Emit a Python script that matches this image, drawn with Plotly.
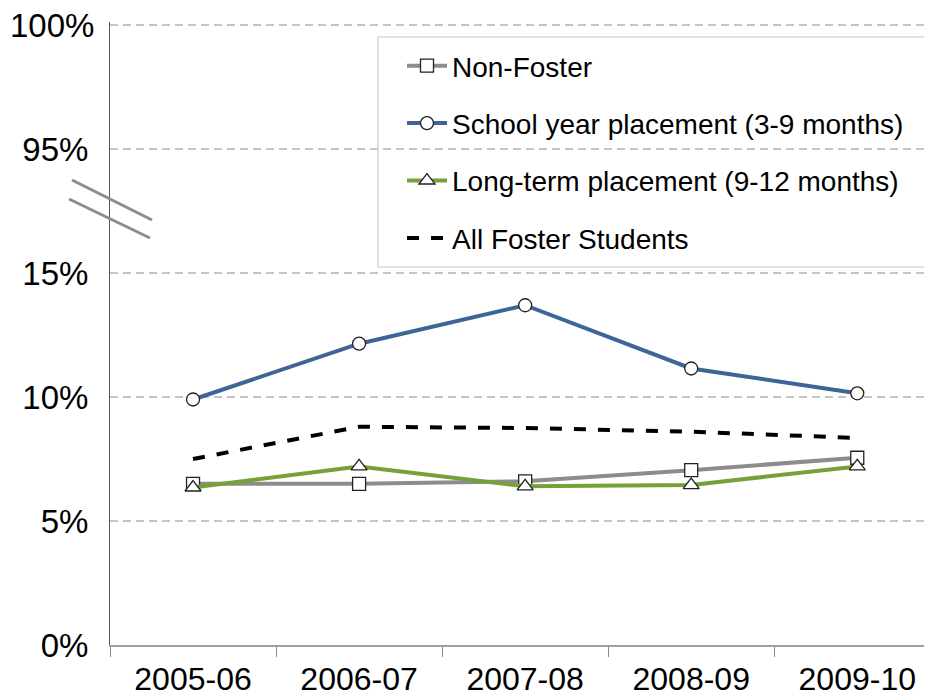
import plotly.graph_objects as go

years = ["2005-06", "2006-07", "2007-08", "2008-09", "2009-10"]
non_foster = [6.5, 6.5, 6.6, 7.05, 7.55]
school_year = [9.9, 12.15, 13.7, 11.15, 10.15]
long_term = [6.35, 7.2, 6.4, 6.45, 7.2]
all_foster = [7.5, 8.8, 8.75, 8.6, 8.35]

# broken axis: 0-15% plotted directly, 95-100% mapped onto 20-25
tick_vals = [0, 5, 10, 15, 20, 25]
tick_text = ["0%", "5%", "10%", "15%", "95%", "100%"]

FONT = "Liberation Sans, Arial, sans-serif"

fig = go.Figure()
fig.add_trace(go.Scatter(
    x=years, y=non_foster, name="Non-Foster", mode="lines+markers",
    line=dict(color="#8c8c8c", width=4),
    marker=dict(symbol="square", size=13, color="white", line=dict(color="#222", width=1.3)),
    legendgroup="a"))
fig.add_trace(go.Scatter(
    x=years, y=school_year, name="School year placement (3-9 months)", mode="lines+markers",
    line=dict(color="#3d6597", width=4),
    marker=dict(symbol="circle", size=13, color="white", line=dict(color="#222", width=1.3)),
    legendgroup="b"))
fig.add_trace(go.Scatter(
    x=years, y=long_term, name="Long-term placement (9-12 months)", mode="lines+markers",
    line=dict(color="#76a03a", width=4),
    marker=dict(symbol="triangle-up", size=14, color="white", line=dict(color="#222", width=1.3)),
    legendgroup="c"))
fig.add_trace(go.Scatter(
    x=years, y=all_foster, name="All Foster Students", mode="lines",
    line=dict(color="black", width=4, dash="dash"),
    legendgroup="d"))

# page body has an 8px margin, so the figure is drawn offset by 8px
OFF = 8
W, H = 932, 700
# desired on-screen plot area: x 110..932, y 22..645
L, T = 110 - OFF, 22 - OFF
R = W - (932 - OFF)
B = H - (645 - OFF)
pw, ph = W - L - R, H - T - B
YMAX = 25 * ph / 620.0  # keep 24.8 px per percent, a few px of headroom

def px(x):
    return (x - OFF - L) / pw

def py(y):
    return (H - B - (y - OFF)) / ph

shapes = [
    # legend frame
    dict(type="rect", xref="paper", yref="paper", x0=px(378), x1=px(928), y0=py(267), y1=py(37),
         line=dict(color="#c8c8c8", width=1.2), fillcolor="white", layer="below"),
    # axis break marks
    dict(type="line", xref="paper", yref="paper", x0=px(72), y0=py(180), x1=px(152), y1=py(220),
         line=dict(color="#8c8c8c", width=3)),
    dict(type="line", xref="paper", yref="paper", x0=px(69), y0=py(199), x1=px(150), y1=py(238),
         line=dict(color="#8c8c8c", width=3)),
]

# top tick label is dropped by plotly near the figure edge, so place it as an annotation
shown_text = tick_text[:-1] + [""]
annotations = [
    dict(text=tick_text[-1], xref="paper", yref="y", x=0, y=tick_vals[-1],
         xanchor="right", yanchor="middle", xshift=-14, showarrow=False,
         font=dict(size=33, family=FONT, color="black")),
]

fig.update_layout(
    width=W, height=H,
    margin=dict(l=L, r=R, t=T, b=B, autoexpand=False),
    paper_bgcolor="white", plot_bgcolor="white",
    font=dict(family=FONT, color="black"),
    showlegend=True,
    legend=dict(x=px(402), y=py(41), xanchor="left", yanchor="top",
                bgcolor="rgba(0,0,0,0)", borderwidth=0,
                font=dict(size=28, family=FONT), tracegroupgap=18,
                traceorder="grouped", itemwidth=40),
    shapes=shapes,
    annotations=annotations,
)
fig.update_xaxes(
    type="category", range=[-0.5, 4.45], automargin=False,
    showgrid=False, showline=True, linecolor="#a0a0a0", linewidth=2,
    ticks="outside", tickson="boundaries", ticklen=10, tickcolor="#888", tickwidth=1.2,
    ticklabelstandoff=5,
    tickfont=dict(size=32, family=FONT, color="black"),
)
fig.update_yaxes(
    range=[0, YMAX], tickvals=tick_vals, ticktext=shown_text, automargin=False,
    showgrid=True, gridcolor="#c4c4c4", griddash="8px,5px", gridwidth=1.6,
    showline=True, linecolor="#555", linewidth=1, zeroline=False,
    ticks="", ticklabelstandoff=14,
    tickfont=dict(size=33, family=FONT, color="black"),
)

fig.write_html("out.html")
